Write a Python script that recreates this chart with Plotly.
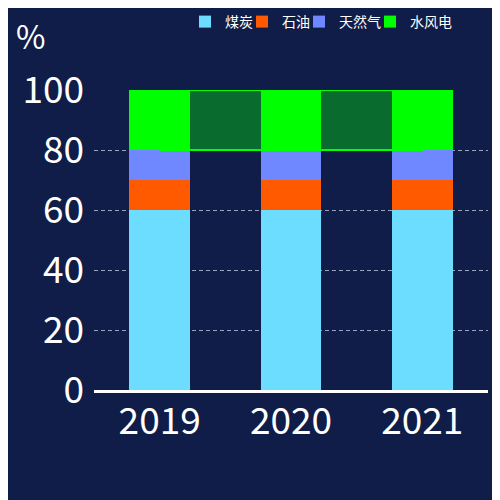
import plotly.graph_objects as go

# energy mix per year (%)
years = ['2019', '2020', '2021']
coal = [60, 60, 60]
oil = [10, 10, 10]
gas = [10, 10, 10]
hydro_wind = [20, 20, 20]

series = [
    ('煤炭', coal, '#6cdcff', 12),
    ('石油', oil, '#ff5a00', 12),
    ('天然气', gas, '#6f87ff', 26),
    ('水风电', hydro_wind, '#00ff00', 44),
]

bg = '#0f1d48'
font_family = 'Noto Sans CJK SC'

fig = go.Figure()
for name, vals, color, lw in series:
    fig.add_trace(go.Bar(
        x=years, y=vals, name=name,
        marker=dict(color=color, line=dict(width=0)),
        legendwidth=lw,
    ))

# band joining the top segments of the first and last year
base = [c + o + g for c, o, g in zip(coal, oil, gas)]
top = [b + h for b, h in zip(base, hydro_wind)]
fig.add_trace(go.Scatter(
    x=[years[0], years[-1], years[-1], years[0], years[0]],
    y=[base[0], base[-1], top[-1], top[0], base[0]],
    mode='lines', fill='toself',
    fillcolor='rgba(0,255,0,0.35)',
    line=dict(color='#00ff00', width=2),
    showlegend=False, hoverinfo='skip', cliponaxis=False,
))

fig.update_layout(
    width=500, height=500,
    barmode='stack', bargap=0.54,
    paper_bgcolor=bg, plot_bgcolor=bg,
    margin=dict(l=86, r=20, t=82, b=118),
    font=dict(family=font_family, color='white'),
    legend=dict(
        orientation='h', xref='container', yref='container',
        x=0.354, xanchor='left', y=0.972, yanchor='middle',
        font=dict(size=14, color='white'), bgcolor='rgba(0,0,0,0)',
        traceorder='normal',
    ),
    xaxis=dict(
        showline=True, linecolor='white', linewidth=3,
        showgrid=False, ticks='', tickfont=dict(size=37, color='white'),
        ticklabelstandoff=-3,
    ),
    yaxis=dict(
        range=[0, 100], dtick=20, showline=False, zeroline=False,
        gridcolor='#9aa3bd', griddash='4px,3px', gridwidth=1,
        ticks='', tickfont=dict(size=37, color='white'),
        ticklabelstandoff=9,
    ),
    annotations=[dict(
        text='%', xref='paper', yref='paper', x=-0.1612, y=1.2667,
        xanchor='center', yanchor='top',
        showarrow=False, font=dict(size=32, color='white'),
    )],
)

fig.write_html('out.html')
